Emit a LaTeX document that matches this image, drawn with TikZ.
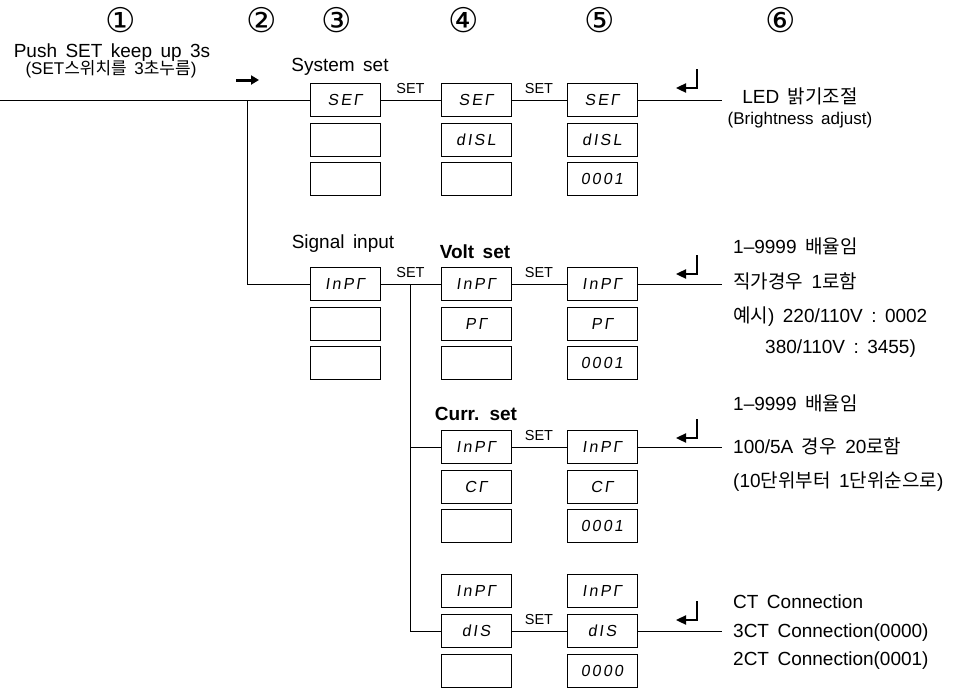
\documentclass[tikz,border=0pt]{standalone}
\usepackage{fontspec}
\setmainfont{Liberation Sans}[WordSpace=1.6]
\newfontfamily\kr{Noto Sans CJK KR}
\newfontfamily\circfont{DejaVu Sans}
\newfontfamily\segfont{Liberation Sans}[FakeSlant=0.15,LetterSpace=14]
\usetikzlibrary{arrows.meta}
\tikzset{
  box/.style={draw, line width=0.9pt, minimum width=70pt, minimum height=33pt, inner sep=0pt,
    font=\segfont\fontsize{16}{16}\selectfont},
  lab/.style={font=\fontsize{19}{22}\selectfont, inner sep=0pt, text height=14pt, text depth=4pt},
  blab/.style={lab, font=\bfseries\fontsize{19}{22}\selectfont},
  small/.style={font=\fontsize{17}{19}\selectfont, inner sep=0pt},
  setlab/.style={font=\fontsize{14.5}{16}\selectfont, inner sep=0pt, above=6pt},
  num/.style={font=\circfont\fontsize{34}{34}\selectfont, inner sep=0pt},
  ln/.style={line width=0.9pt},
  ret/.pic={
    \draw[line width=2.4pt] (0,-19) -- (0,0) -- (-12,0);
    \fill (-21,0) -- (-11,-4.8) -- (-11,4.8) -- cycle;
  }
}
\begin{document}
\begin{tikzpicture}[x=1pt,y=-1pt]
\useasboundingbox (0,0) rectangle (959,689);
% circled numbers
\node[num] (n1) at (121,20) {①};
\node[num] (n2) at (262,20) {②};
\node[num] (n3) at (337,20) {③};
\node[num] (n4) at (464,20) {④};
\node[num] (n5) at (600,20) {⑤};
\node[num] (n6) at (781,20) {⑥};
% top texts
\node[lab] (push) at (112,52) {Push SET keep up 3s};
\node[small] (pushk) at (111,69) {(SET{\kr 스위치를} 3{\kr 초누름})};
\node[lab] (sys) at (340,66) {System set};
\node[lab] (sig) at (343,243) {Signal input};
\node[blab] (volt) at (475,253) {Volt set};
\node[blab] (curr) at (476,415) {Curr. set};
% arrow
\coordinate (ar0) at (236,80);
\coordinate (ar1) at (259,80);
\draw[line width=3pt, -{Triangle[length=8pt,width=9pt]}] (ar0) -- (ar1);
% row 1
\node[box] (a1) at (345,100) {SEΓ};
\node[box] (a2) at (345,139.5) {};
\node[box] (a3) at (345,179) {};
\node[box] (b1) at (476,100) {SEΓ};
\node[box] (b2) at (476,139.5) {dISL};
\node[box] (b3) at (476,179) {};
\node[box] (c1) at (602,100) {SEΓ};
\node[box] (c2) at (602,139.5) {dISL};
\node[box] (c3) at (602,179) {0001};
% row 2
\node[box] (d1) at (345,284) {InPΓ};
\node[box] (d2) at (345,323.5) {};
\node[box] (d3) at (345,363) {};
\node[box] (e1) at (476,284) {InPΓ};
\node[box] (e2) at (476,323.5) {PΓ};
\node[box] (e3) at (476,363) {};
\node[box] (f1) at (602,284) {InPΓ};
\node[box] (f2) at (602,323.5) {PΓ};
\node[box] (f3) at (602,363) {0001};
% row 3
\node[box] (g1) at (476,447) {InPΓ};
\node[box] (g2) at (476,486.5) {CΓ};
\node[box] (g3) at (476,526) {};
\node[box] (h1) at (602,447) {InPΓ};
\node[box] (h2) at (602,486.5) {CΓ};
\node[box] (h3) at (602,526) {0001};
% row 4
\node[box] (i1) at (476,591) {InPΓ};
\node[box] (i2) at (476,631) {dIS};
\node[box] (i3) at (476,671) {};
\node[box] (j1) at (602,591) {InPΓ};
\node[box] (j2) at (602,631) {dIS};
\node[box] (j3) at (602,671) {0000};
% connectors
\coordinate (start) at (0,100);
\coordinate (v0) at (247,100);
\coordinate (v1) at (247,284);
\draw[ln] (start) -- (a1.west);
\draw[ln] (v0) -- (v1) -- (d1.west);
\draw[ln] (a1) -- node[setlab]{SET} (b1);
\draw[ln] (b1) -- node[setlab]{SET} (c1);
\coordinate (r1) at (722,100);
\draw[ln] (c1) -- (r1);
\draw[ln] (d1) -- node[setlab]{SET} (e1);
\draw[ln] (e1) -- node[setlab]{SET} (f1);
\coordinate (r2) at (722,284);
\draw[ln] (f1) -- (r2);
\coordinate (k0) at (410,284);
\coordinate (k2) at (410,447);
\coordinate (k1) at (410,631);
\draw[ln] (k0) -- (k1) -- (i2.west);
\draw[ln] (k2) -- (g1.west);
\draw[ln] (g1) -- node[setlab]{SET} (h1);
\coordinate (r3) at (722,447);
\draw[ln] (h1) -- (r3);
\draw[ln] (i2) -- node[setlab]{SET} (j2);
\coordinate (r4) at (722,631);
\draw[ln] (j2) -- (r4);
% return symbols
\pic at (697,88) {ret};
\pic at (697,274) {ret};
\pic at (697,438) {ret};
\pic at (697,620) {ret};
% right texts
\node[lab] (t1) at (800,98) {LED {\kr 밝기조절}};
\node[small] (t1b) at (800,120) {(Brightness adjust)};
\node[lab, anchor=west] (t2a) at (733,248) {1–9999 {\kr 배율임}};
\node[lab, anchor=west] (t2b) at (733,283) {{\kr 직가경우} 1{\kr 로함}};
\node[lab, anchor=west] (t2c) at (733,317) {{\kr 예시}) 220/110V : 0002};
\node[lab, anchor=west] (t2d) at (765,348) {380/110V : 3455)};
\node[lab, anchor=west] (t3a) at (733,405) {1–9999 {\kr 배율임}};
\node[lab, anchor=west] (t3b) at (733,448) {100/5A {\kr 경우} 20{\kr 로함}};
\node[lab, anchor=west] (t3c) at (733,482) {(10{\kr 단위부터} 1{\kr 단위순으로})};
\node[lab, anchor=west] (t4a) at (733,603) {CT Connection};
\node[lab, anchor=west] (t4b) at (733,632) {3CT Connection(0000)};
\node[lab, anchor=west] (t4c) at (733,660) {2CT Connection(0001)};
\end{tikzpicture}
\end{document}
